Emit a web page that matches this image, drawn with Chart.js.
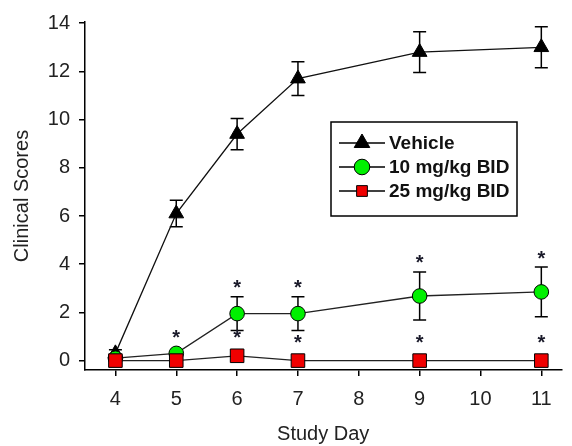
<!DOCTYPE html>
<html>
<head>
<meta charset="utf-8">
<style>
    html, body { margin: 0; padding: 0; background: #fff; }
    #wrap { width: 572px; height: 446px; position: relative; }
</style>
</head>
<body>
<div id="wrap"><canvas id="chart"></canvas></div>
<script src="https://cdn.jsdelivr.net/npm/chart.js@4/dist/chart.umd.min.js"></script>
<script>
// Clinical scores by study day, three treatment groups

const DAYS = [4, 5, 6, 7, 9, 11];
const X_TICKS = [4, 5, 6, 7, 8, 9, 10, 11];
const Y_TICKS = [0, 2, 4, 6, 8, 10, 12, 14];

const VEHICLE = [0.3, 6.1, 9.4, 11.7, 12.8, 13.0];
const VEHICLE_ERR = [0.15, 0.55, 0.65, 0.7, 0.85, 0.85];
const DOSE10 = [0.1, 0.3, 1.95, 1.95, 2.68, 2.85];
const DOSE10_ERR = [0, 0.05, 0.7, 0.7, 1.0, 1.03];
const DOSE25 = [0, 0, 0.2, 0, 0, 0];
const DOSE25_ERR = [0, 0, 0, 0, 0, 0];
const SIG10 = [false, true, true, true, true, true];
const SIG25 = [false, false, true, true, true, true];

const FONT = '"Liberation Sans", Arial, sans-serif';
const TEXT = "#222";

const pts = (vals) => DAYS.map((d, i) => ({ x: d, y: vals[i] }));

function drawMarker(ctx, style, x, y, r, fill) {
    ctx.beginPath();
    if (style === "triangle") {
        ctx.moveTo(x, y - r);
        ctx.lineTo(x + r * 0.866, y + r * 0.5);
        ctx.lineTo(x - r * 0.866, y + r * 0.5);
        ctx.closePath();
    } else if (style === "rect") {
        const s = r * Math.SQRT1_2;
        ctx.rect(x - s, y - s, 2 * s, 2 * s);
    } else {
        ctx.arc(x, y, r, 0, Math.PI * 2);
    }
    ctx.fillStyle = fill;
    ctx.fill();
    ctx.strokeStyle = "#000";
    ctx.lineWidth = 1;
    ctx.stroke();
}

const errorBars = {
    id: "errorBars",
    beforeDatasetsDraw(chart) {
        const { ctx, scales: { x, y } } = chart;
        ctx.save();
        ctx.strokeStyle = "#000";
        ctx.lineWidth = 1.5;
        chart.data.datasets.forEach(ds => {
            (ds.errors || []).forEach((e, i) => {
                if (!e) return;
                const p = ds.data[i];
                const px = x.getPixelForValue(p.x);
                const top = y.getPixelForValue(p.y + e);
                const bot = y.getPixelForValue(p.y - e);
                ctx.beginPath();
                ctx.moveTo(px, top); ctx.lineTo(px, bot);
                ctx.moveTo(px - 6.5, top); ctx.lineTo(px + 6.5, top);
                ctx.moveTo(px - 6.5, bot); ctx.lineTo(px + 6.5, bot);
                ctx.stroke();
            });
        });
        ctx.restore();
    }
};

// significance asterisks sit just above the error bar or marker
const stars = {
    id: "stars",
    afterDatasetsDraw(chart) {
        const { ctx, scales: { x, y } } = chart;
        ctx.save();
        ctx.fillStyle = "#1a1a2a";
        ctx.font = `bold 20px ${FONT}`;
        ctx.textAlign = "center";
        ctx.textBaseline = "alphabetic";
        chart.data.datasets.forEach(ds => {
            (ds.sig || []).forEach((s, i) => {
                if (!s) return;
                const p = ds.data[i];
                const px = x.getPixelForValue(p.x);
                const errTop = y.getPixelForValue(p.y + (ds.errors[i] || 0));
                const markTop = y.getPixelForValue(p.y) - ds.pointRadius;
                const cy = Math.min(errTop, markTop) - 11;
                ctx.fillText("*", px, cy + 8.5);
            });
        });
        ctx.restore();
    }
};

const legendBox = {
    id: "legendBox",
    afterDraw(chart) {
        const ctx = chart.ctx;
        const box = { x: 331, y: 122, w: 186, h: 94 };
        ctx.save();
        ctx.fillStyle = "#fff";
        ctx.fillRect(box.x, box.y, box.w, box.h);
        ctx.strokeStyle = "#000";
        ctx.lineWidth = 1.5;
        ctx.strokeRect(box.x, box.y, box.w, box.h);
        chart.data.datasets.forEach((ds, i) => {
            const ly = 143 + i * 24;
            ctx.strokeStyle = "#000";
            ctx.lineWidth = 1.3;
            ctx.beginPath();
            ctx.moveTo(339, ly); ctx.lineTo(385, ly);
            ctx.stroke();
            drawMarker(ctx, ds.pointStyle, 362, ly, ds.legendRadius, ds.pointBackgroundColor);
            ctx.fillStyle = "#111";
            ctx.font = `bold 19px ${FONT}`;
            ctx.textAlign = "left";
            ctx.textBaseline = "middle";
            ctx.fillText(ds.label, 389, ly + 1);
        });
        ctx.restore();
    }
};

const axisCommon = {
    type: "linear",
    grid: { drawOnChartArea: false, drawTicks: true, tickLength: 6, color: "#000", lineWidth: 1.5 },
    border: { color: "#000", width: 1.5 },
    ticks: { color: TEXT, font: { family: FONT, size: 20 } },
};

new Chart(document.getElementById("chart"), {
    type: "line",
    data: {
        datasets: [
            {
                label: "Vehicle",
                data: pts(VEHICLE),
                errors: VEHICLE_ERR,
                borderColor: "#111",
                borderWidth: 1.3,
                pointStyle: "triangle",
                pointRadius: 8.5,
                legendRadius: 9,
                pointBackgroundColor: "#000",
                pointBorderColor: "#000",
                pointBorderWidth: 1,
                order: 3,
            },
            {
                label: "10 mg/kg BID",
                data: pts(DOSE10),
                errors: DOSE10_ERR,
                sig: SIG10,
                borderColor: "#222",
                borderWidth: 1.3,
                pointStyle: "circle",
                pointRadius: 7.3,
                legendRadius: 7.8,
                pointBackgroundColor: "#00f000",
                pointBorderColor: "#000",
                pointBorderWidth: 1,
                order: 2,
            },
            {
                label: "25 mg/kg BID",
                data: pts(DOSE25),
                errors: DOSE25_ERR,
                sig: SIG25,
                borderColor: "#222",
                borderWidth: 1.3,
                pointStyle: "rect",
                pointRadius: 9.6,
                legendRadius: 7.6,
                pointBackgroundColor: "#f00000",
                pointBorderColor: "#000",
                pointBorderWidth: 1,
                order: 1,
            },
        ]
    },
    options: {
        responsive: true,
        maintainAspectRatio: false,
        animation: false,
        layout: { padding: { top: 22, right: 0, bottom: 0, left: 0 } },
        plugins: {
            legend: { display: false },
            tooltip: { enabled: false },
        },
        scales: {
            x: {
                ...axisCommon,
                min: 3.5,
                max: 11.33,
                afterBuildTicks: (s) => { s.ticks = X_TICKS.map(v => ({ value: v })); },
                afterFit: (s) => { s.height = 76; },
                ticks: { ...axisCommon.ticks, padding: 11, maxRotation: 0 },
                title: {
                    display: true, text: "Study Day", color: TEXT,
                    font: { family: FONT, size: 20 }, padding: { top: 0, bottom: 0 },
                },
            },
            y: {
                ...axisCommon,
                min: -0.39,
                max: 14.05,
                afterBuildTicks: (s) => { s.ticks = Y_TICKS.map(v => ({ value: v })); },
                afterFit: (s) => { s.width = 85; },
                ticks: { ...axisCommon.ticks, padding: 9 },
                title: {
                    display: true, text: "Clinical Scores", color: TEXT,
                    font: { family: FONT, size: 20 }, padding: { top: 10, bottom: 0 },
                },
            },
        },
    },
    plugins: [errorBars, stars, legendBox],
});
</script>
</body>
</html>
